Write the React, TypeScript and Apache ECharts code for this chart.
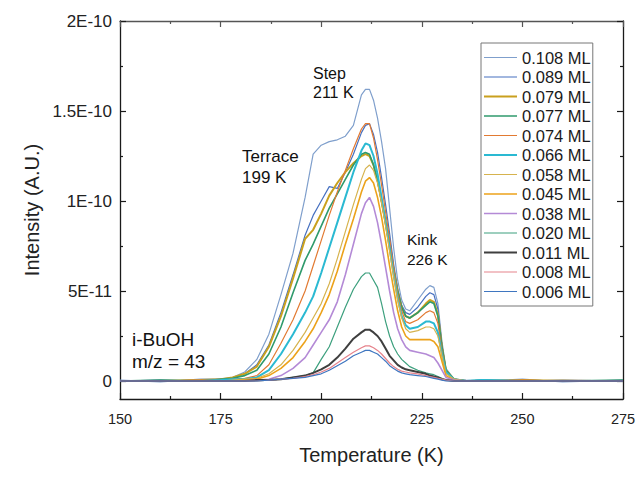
import React, { useEffect, useRef } from "react";
import * as echarts from "echarts";

// Temperatures (K), shared by all traces
const temps = [150, 160, 170, 175, 178, 181, 184, 187, 190, 193, 196, 198, 200, 202, 204, 206, 208, 210, 211, 212, 213, 214, 215, 216, 217, 218, 219, 220, 221, 222, 224, 226, 227, 228, 229, 230, 231, 233, 236, 240, 250, 260, 275];

// Intensities in units of 1E-11 A.U.
const s108 = [0.05, -0.05, 0.1, 0.1, 0.2, 0.5, 1.2, 2.6, 4.8, 7.1, 10.2, 12.6, 13.1, 13.3, 13.4, 13.6, 14.2, 15.9, 16.2, 16.2, 15.6, 14.6, 13.3, 11.8, 9.6, 7.4, 5.6, 4.5, 4.0, 3.9, 4.5, 5.1, 5.3, 5.2, 4.3, 2.2, 0.7, 0.1, 0.05, 0, 0.1, -0.05, 0.05];
const s089 = [0, 0.05, 0, 0.1, 0.15, 0.4, 0.9, 2.0, 3.8, 5.9, 8.1, 9.2, 10.0, 10.8, 10.7, 11.6, 12.6, 13.8, 14.2, 14.3, 13.7, 12.7, 11.3, 9.8, 8.2, 6.5, 5.1, 4.2, 3.8, 3.7, 4.1, 4.7, 4.9, 4.8, 4.0, 2.0, 0.6, 0.1, 0, 0.05, 0, 0.05, 0];
const s079 = [0, 0, 0.05, 0.1, 0.2, 0.4, 0.8, 1.9, 3.6, 5.7, 7.9, 8.4, 9.3, 10.3, 11.0, 11.6, 12.1, 12.5, 12.6, 12.5, 12.0, 11.2, 10.0, 8.8, 7.5, 6.2, 5.0, 4.1, 3.6, 3.5, 3.8, 4.3, 4.5, 4.4, 3.7, 1.9, 0.6, 0.1, 0, 0, 0.05, 0, 0];
const s077 = [0, 0.05, 0, 0.1, 0.15, 0.3, 0.6, 1.5, 3.0, 4.9, 6.7, 7.6, 8.6, 9.6, 10.4, 11.2, 12.0, 12.6, 12.7, 12.6, 12.0, 11.1, 10.0, 8.8, 7.5, 6.2, 5.0, 4.1, 3.6, 3.5, 3.8, 4.2, 4.4, 4.3, 3.6, 1.9, 0.6, 0.1, 0, 0.05, 0, 0, 0.05];
const s074 = [0, 0, 0.05, 0.05, 0.1, 0.15, 0.3, 0.9, 2.1, 3.4, 5.0, 6.4, 7.8, 9.2, 10.5, 11.7, 12.9, 14.0, 14.3, 14.3, 13.5, 12.3, 10.9, 9.4, 7.9, 6.3, 4.9, 3.9, 3.3, 3.2, 3.4, 3.8, 3.9, 3.8, 3.2, 1.7, 0.5, 0.1, 0, 0, 0.05, 0, 0];
const s066 = [0, 0, 0, 0.05, 0.1, 0.1, 0.2, 0.6, 1.5, 2.6, 3.8, 4.7, 6.0, 7.4, 8.8, 10.2, 11.6, 12.8, 13.2, 13.1, 12.5, 11.5, 10.2, 8.8, 7.4, 5.9, 4.6, 3.6, 3.1, 2.9, 3.0, 3.3, 3.3, 3.2, 2.7, 1.5, 0.5, 0.1, 0, 0.05, 0, 0, 0];
const s058 = [0, 0, 0, 0, 0.05, 0.1, 0.15, 0.4, 0.9, 1.7, 2.7, 3.5, 4.3, 5.4, 6.8, 8.3, 9.8, 11.2, 11.8, 12.0, 11.7, 11.0, 9.9, 8.6, 7.2, 5.8, 4.5, 3.5, 2.9, 2.7, 2.8, 3.0, 3.0, 2.9, 2.5, 1.4, 0.4, 0.1, 0, 0, 0, 0.05, 0];
const s045 = [0, 0, 0, 0, 0, 0.05, 0.1, 0.3, 0.7, 1.3, 2.2, 2.9, 3.8, 4.8, 6.1, 7.6, 9.0, 10.5, 11.1, 11.3, 11.0, 10.2, 9.1, 7.8, 6.4, 5.1, 3.9, 3.0, 2.5, 2.3, 2.3, 2.3, 2.3, 2.2, 1.9, 1.1, 0.3, 0.05, 0, 0, 0, 0, 0];
const s038 = [0, 0, 0, 0, 0, 0, 0.05, 0.1, 0.3, 0.7, 1.3, 2.0, 2.7, 3.4, 4.4, 5.9, 7.6, 9.3, 9.9, 10.2, 9.7, 8.8, 7.6, 6.3, 5.0, 3.8, 2.9, 2.3, 1.9, 1.7, 1.6, 1.5, 1.4, 1.3, 1.0, 0.6, 0.2, 0.05, 0, 0, 0, 0, 0];
const s020 = [0, 0, 0, 0, 0, 0, 0, 0.05, 0.1, 0.2, 0.3, 0.45, 1.2, 1.9, 3.0, 4.1, 5.1, 5.8, 6.0, 6.0, 5.6, 5.2, 4.3, 3.3, 2.5, 1.9, 1.5, 1.2, 1.0, 0.8, 0.6, 0.45, 0.4, 0.35, 0.25, 0.15, 0.05, 0, 0, 0, 0, 0, 0];
const s011 = [0, 0, 0, 0, 0, 0, 0.05, 0.05, 0.1, 0.2, 0.3, 0.45, 0.65, 0.9, 1.3, 1.8, 2.35, 2.7, 2.85, 2.85, 2.7, 2.5, 2.2, 1.8, 1.4, 1.15, 0.9, 0.75, 0.65, 0.6, 0.5, 0.4, 0.3, 0.25, 0.2, 0.1, 0.05, 0, 0, 0, 0, 0, 0];
const s008 = [0, 0, 0, 0, 0, 0, 0, 0.05, 0.1, 0.15, 0.25, 0.35, 0.5, 0.7, 1.0, 1.3, 1.6, 1.85, 1.95, 1.95, 1.85, 1.7, 1.5, 1.25, 1.0, 0.8, 0.65, 0.55, 0.5, 0.45, 0.4, 0.3, 0.25, 0.2, 0.15, 0.1, 0.05, 0, 0, 0, 0, 0, 0];
const s006 = [0, 0, 0, 0, 0, 0, 0, 0.05, 0.1, 0.15, 0.2, 0.3, 0.4, 0.6, 0.85, 1.1, 1.4, 1.6, 1.7, 1.7, 1.6, 1.5, 1.3, 1.1, 0.85, 0.7, 0.55, 0.45, 0.4, 0.35, 0.3, 0.25, 0.2, 0.15, 0.1, 0.05, 0, 0, 0, 0, 0, 0, 0];

const seriesNames = ["0.108 ML", "0.089 ML", "0.079 ML", "0.077 ML", "0.074 ML", "0.066 ML", "0.058 ML", "0.045 ML", "0.038 ML", "0.020 ML", "0.011 ML", "0.008 ML", "0.006 ML"];
const seriesValues = [s108, s089, s079, s077, s074, s066, s058, s045, s038, s020, s011, s008, s006];
const seriesColors = ["#7f9fcc", "#4670c0", "#c9a01e", "#2f9a6c", "#e27a32", "#2ab9d2", "#d6b34e", "#eca21a", "#b48ad6", "#3da07e", "#3f3f3f", "#e6838c", "#3f76c0"];
const seriesWidths = [1.2, 1.2, 2, 1.6, 1.2, 2, 1.2, 1.6, 1.6, 1.2, 2, 1.2, 1.2];

const unit = 1e-11;
const yTickValues = [0, 5e-11, 1e-10, 1.5e-10, 2e-10];
const yTickLabels = ["0", "5E-11", "1E-10", "1.5E-10", "2E-10"];
const yMinorValues = [2.5e-11, 7.5e-11, 1.25e-10, 1.75e-10];
const xTickLabels = ["150", "175", "200", "225", "250", "275"];

const FONT = "Liberation Sans, Arial, sans-serif";
const AX = "#1a1a1a";

const lineIcon = (w: number) => {
  const a = 7 - w / 2;
  const b = 7 + w / 2;
  return `path://M0,0 M33,14 M0,${a} L33,${a} L33,${b} L0,${b} Z`;
};

export default function App() {
  const ref = useRef<HTMLDivElement>(null);
  useEffect(() => {
    if (!ref.current) return;
    const chart = echarts.init(ref.current, undefined, { renderer: "svg" });
    const yFmt = (v: number) => {
      const i = yTickValues.findIndex((t) => Math.abs(t - v) < 1e-15);
      return i >= 0 ? yTickLabels[i] : "";
    };
    const yBase = (pos: string, major: boolean, showLine: boolean, color: string) => ({
      type: "value",
      position: pos,
      min: -1e-11,
      max: 2e-10,
      splitLine: { show: false },
      axisLine: { show: showLine, onZero: false, lineStyle: { color, width: 1.3 } },
      axisTick: {
        show: true,
        inside: true,
        length: major ? 6 : 3,
        customValues: major ? yTickValues : yMinorValues,
        lineStyle: { color, width: 1.2 },
      },
      axisLabel: { show: false },
    });
    const yLeft: any = yBase("left", true, true, AX);
    yLeft.axisLabel = {
      show: true,
      customValues: yTickValues,
      formatter: yFmt,
      fontSize: 17,
      fontFamily: FONT,
      color: "#222",
      margin: 8,
    };
    yLeft.name = "Intensity (A.U.)";
    yLeft.nameLocation = "middle";
    yLeft.nameGap = 75;
    yLeft.nameTextStyle = { fontSize: 20, fontFamily: FONT, color: "#222" };

    const xBase = (pos: string, color: string) => ({
      type: "value",
      position: pos,
      min: 150,
      max: 275,
      interval: 25,
      splitLine: { show: false },
      axisLine: { show: true, onZero: false, lineStyle: { color, width: 1.3 } },
      axisTick: { show: true, inside: true, length: 6, lineStyle: { color, width: 1.2 } },
      minorTick: { show: true, splitNumber: 2, length: 3, lineStyle: { color, width: 1.2 } },
      minorSplitLine: { show: false },
      axisLabel: { show: false },
    });
    const xBottom: any = xBase("bottom", AX);
    xBottom.axisLabel = {
      show: true,
      fontSize: 14.5,
      fontFamily: FONT,
      color: "#222",
      margin: 12,
      formatter: (v: number) => {
        const s = String(v);
        return xTickLabels.includes(s) ? s : "";
      },
    };
    xBottom.name = "Temperature (K)";
    xBottom.nameLocation = "middle";
    xBottom.nameGap = 46;
    xBottom.nameTextStyle = { fontSize: 20, fontFamily: FONT, color: "#222" };

    const option: any = {
      animation: false,
      backgroundColor: "#ffffff",
      grid: { left: 120, right: 18, top: 21, bottom: 84, containLabel: false },
      xAxis: [xBottom, xBase("top", "#555")],
      yAxis: [yLeft, yBase("left", false, false, AX), yBase("right", true, true, AX), yBase("right", false, false, AX)],
      legend: {
        orient: "vertical",
        left: 481,
        top: 43,
        itemWidth: 33,
        itemHeight: 14,
        itemGap: 2.5,
        padding: [6, 2, 6, 3],
        borderColor: "#777",
        borderWidth: 1,
        selectedMode: false,
        textStyle: { fontSize: 16.5, fontFamily: FONT, color: "#1a1a1a" },
        data: seriesNames.map((n, k) => ({ name: n, icon: lineIcon(seriesWidths[k]) })),
      },
      series: seriesNames.map((name, k) => ({
        name,
        type: "line",
        xAxisIndex: 0,
        yAxisIndex: 0,
        symbol: "none",
        showSymbol: false,
        smooth: false,
        color: seriesColors[k],
        itemStyle: { color: seriesColors[k] },
        lineStyle: { color: seriesColors[k], width: seriesWidths[k] },
        data: temps.map((t, i) => [t, seriesValues[k][i] * unit]),
        z: 2,
      })),
      graphic: [
        { type: "text", left: 313, top: 64, style: { text: "Step\n211 K", fontSize: 16, lineHeight: 19, fontFamily: FONT, fill: "#111" } },
        { type: "text", left: 242, top: 146, style: { text: "Terrace\n199 K", fontSize: 17, lineHeight: 21, fontFamily: FONT, fill: "#111" } },
        { type: "text", left: 407, top: 229, style: { text: "Kink\n226 K", fontSize: 15.5, lineHeight: 20, fontFamily: FONT, fill: "#111" } },
        { type: "text", left: 132, top: 328, style: { text: "i-BuOH\nm/z = 43", fontSize: 19, lineHeight: 22, fontFamily: FONT, fill: "#111" } },
      ],
    };
    chart.setOption(option);
    return () => chart.dispose();
  }, []);
  return <div ref={ref} style={{ position: "fixed", left: 0, top: 0, width: 641, height: 483 }} />;
}
